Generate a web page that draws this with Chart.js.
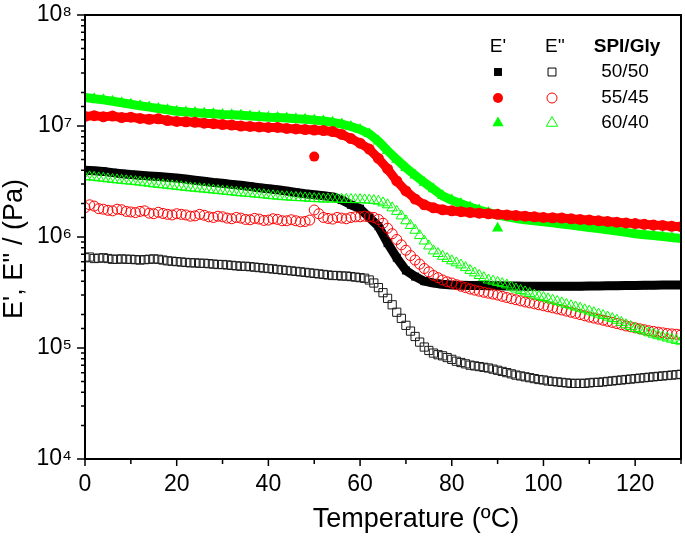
<!DOCTYPE html>
<html>
<head>
<meta charset="utf-8">
<script src="https://cdn.jsdelivr.net/npm/chart.js@4.4.0/dist/chart.umd.min.js"></script>
<style>
  html, body { margin: 0; padding: 0; background: #fff; }
  #wrap { width: 685px; height: 536px; }
</style>
</head>
<body>
<div id="wrap"><canvas id="dmaChart" width="685" height="536"></canvas></div>
<script>
// temperature (ºC): E' read every 2 degrees, E'' every degree
const temps = [0, 2, 4, 6, 8, 10, 12, 14, 16, 18,
    20, 22, 24, 26, 28, 30, 32, 34, 36, 38,
    40, 42, 44, 46, 48, 50, 52, 54, 56, 58,
    60, 62, 64, 66, 68, 70, 72, 74, 76, 78,
    80, 82, 84, 86, 88, 90, 92, 94, 96, 98,
    100, 102, 104, 106, 108, 110, 112, 114, 116, 118,
    120, 122, 124, 126, 128, 130];
const tempsFine = [0, 1, 2, 3, 4, 5, 6, 7, 8, 9,
    10, 11, 12, 13, 14, 15, 16, 17, 18, 19,
    20, 21, 22, 23, 24, 25, 26, 27, 28, 29,
    30, 31, 32, 33, 34, 35, 36, 37, 38, 39,
    40, 41, 42, 43, 44, 45, 46, 47, 48, 49,
    50, 51, 52, 53, 54, 55, 56, 57, 58, 59,
    60, 61, 62, 63, 64, 65, 66, 67, 68, 69,
    70, 71, 72, 73, 74, 75, 76, 77, 78, 79,
    80, 81, 82, 83, 84, 85, 86, 87, 88, 89,
    90, 91, 92, 93, 94, 95, 96, 97, 98, 99,
    100, 101, 102, 103, 104, 105, 106, 107, 108, 109,
    110, 111, 112, 113, 114, 115, 116, 117, 118, 119,
    120, 121, 122, 123, 124, 125, 126, 127, 128, 129, 130];

// E' (storage modulus), Pa
const storage5050 = [4.0e6, 3.95e6, 3.9e6, 3.8e6, 3.72e6, 3.65e6, 3.6e6, 3.55e6, 3.5e6, 3.45e6,
    3.4e6, 3.33e6, 3.25e6, 3.18e6, 3.1e6, 3.05e6, 2.98e6, 2.92e6, 2.85e6, 2.78e6,
    2.72e6, 2.66e6, 2.6e6, 2.52e6, 2.45e6, 2.4e6, 2.35e6, 2.3e6, 2.15e6, 1.95e6,
    1.8e6, 1.5e6, 1.25e6, 8.8e5, 6.5e5, 5.0e5, 4.4e5, 4.0e5, 3.85e5, 3.75e5,
    3.7e5, 3.68e5, 3.66e5, 3.65e5, 3.64e5, 3.63e5, 3.62e5, 3.61e5, 3.6e5, 3.6e5,
    3.6e5, 3.6e5, 3.6e5, 3.6e5, 3.6e5, 3.61e5, 3.62e5, 3.63e5, 3.64e5, 3.65e5,
    3.66e5, 3.67e5, 3.68e5, 3.69e5, 3.7e5, 3.7e5];
const storage5545 = [1.22e7, 1.24e7, 1.21e7, 1.23e7, 1.19e7, 1.20e7, 1.17e7, 1.15e7, 1.16e7, 1.12e7,
    1.10e7, 1.09e7, 1.08e7, 1.06e7, 1.05e7, 1.03e7, 1.02e7, 1.00e7, 9.9e6, 9.8e6,
    9.7e6, 9.7e6, 9.5e6, 9.4e6, 9.3e6, 9.2e6, 9.1e6, 8.9e6, 8.4e6, 7.7e6,
    7.0e6, 6.2e6, 5.1e6, 4.1e6, 3.2e6, 2.6e6, 2.2e6, 1.95e6, 1.83e6, 1.76e6,
    1.72e6, 1.69e6, 1.66e6, 1.64e6, 1.62e6, 1.60e6, 1.58e6, 1.56e6, 1.54e6, 1.52e6,
    1.50e6, 1.49e6, 1.48e6, 1.46e6, 1.44e6, 1.42e6, 1.40e6, 1.38e6, 1.36e6, 1.34e6,
    1.32e6, 1.30e6, 1.28e6, 1.27e6, 1.25e6, 1.24e6];
const storage6040 = [1.81e7, 1.76e7, 1.72e7, 1.67e7, 1.62e7, 1.57e7, 1.52e7, 1.48e7, 1.44e7, 1.40e7,
    1.36e7, 1.34e7, 1.32e7, 1.30e7, 1.29e7, 1.27e7, 1.26e7, 1.25e7, 1.23e7, 1.22e7,
    1.20e7, 1.19e7, 1.18e7, 1.16e7, 1.15e7, 1.13e7, 1.11e7, 1.08e7, 1.04e7, 9.9e6,
    9.3e6, 8.5e6, 7.3e6, 6.0e6, 5.0e6, 4.2e6, 3.6e6, 3.1e6, 2.7e6, 2.35e6,
    2.15e6, 2.0e6, 1.86e6, 1.75e6, 1.66e6, 1.58e6, 1.52e6, 1.47e6, 1.43e6, 1.40e6,
    1.37e6, 1.34e6, 1.31e6, 1.28e6, 1.25e6, 1.22e6, 1.19e6, 1.16e6, 1.13e6, 1.10e6,
    1.07e6, 1.05e6, 1.03e6, 1.01e6, 0.99e6, 0.97e6];

// E'' (loss modulus), Pa
const loss5050 = [6.5e5, 6.6e5, 6.4e5, 6.45e5, 6.5e5, 6.4e5, 6.3e5, 6.3e5, 6.35e5, 6.3e5,
    6.3e5, 6.25e5, 6.2e5, 6.25e5, 6.3e5, 6.35e5, 6.3e5, 6.2e5, 6.1e5, 6.05e5,
    6.0e5, 5.95e5, 5.9e5, 5.85e5, 5.85e5, 5.8e5, 5.8e5, 5.75e5, 5.7e5, 5.65e5,
    5.65e5, 5.6e5, 5.55e5, 5.5e5, 5.45e5, 5.45e5, 5.4e5, 5.35e5, 5.3e5, 5.25e5,
    5.2e5, 5.15e5, 5.1e5, 5.05e5, 5.0e5, 4.95e5, 4.9e5, 4.85e5, 4.8e5, 4.75e5,
    4.7e5, 4.65e5, 4.6e5, 4.55e5, 4.5e5, 4.5e5, 4.45e5, 4.45e5, 4.4e5, 4.35e5,
    4.3e5, 4.25e5, 4.1e5, 3.85e5, 3.5e5, 3.15e5, 2.8e5, 2.45e5, 2.1e5, 1.85e5,
    1.6e5, 1.42e5, 1.27e5, 1.13e5, 1.02e5, 9.5e4, 9.0e4, 8.7e4, 8.5e4, 8.2e4,
    7.9e4, 7.6e4, 7.4e4, 7.2e4, 7.0e4, 6.9e4, 6.8e4, 6.7e4, 6.6e4, 6.45e4,
    6.3e4, 6.15e4, 6.0e4, 5.85e4, 5.7e4, 5.6e4, 5.5e4, 5.4e4, 5.3e4, 5.2e4,
    5.15e4, 5.05e4, 5.0e4, 4.95e4, 4.9e4, 4.85e4, 4.8e4, 4.8e4, 4.8e4, 4.8e4,
    4.85e4, 4.9e4, 4.9e4, 4.95e4, 5.0e4, 5.05e4, 5.1e4, 5.15e4, 5.2e4, 5.25e4,
    5.3e4, 5.35e4, 5.4e4, 5.45e4, 5.5e4, 5.55e4, 5.6e4, 5.65e4, 5.7e4, 5.75e4, 5.8e4];
const loss5545 = [1.84e6, 1.95e6, 1.9e6, 1.8e6, 1.78e6, 1.74e6, 1.72e6, 1.78e6, 1.76e6, 1.7e6,
    1.68e6, 1.66e6, 1.7e6, 1.72e6, 1.64e6, 1.62e6, 1.67e6, 1.63e6, 1.6e6, 1.58e6,
    1.62e6, 1.6e6, 1.58e6, 1.54e6, 1.55e6, 1.6e6, 1.57e6, 1.52e6, 1.5e6, 1.54e6,
    1.52e6, 1.48e6, 1.46e6, 1.5e6, 1.48e6, 1.44e6, 1.43e6, 1.47e6, 1.45e6, 1.41e6,
    1.42e6, 1.46e6, 1.44e6, 1.4e6, 1.4e6, 1.43e6, 1.4e6, 1.37e6, 1.38e6, 1.42e6,
    1.75e6, 1.62e6, 1.5e6, 1.47e6, 1.45e6, 1.5e6, 1.48e6, 1.46e6, 1.5e6, 1.52e6,
    1.52e6, 1.54e6, 1.52e6, 1.5e6, 1.44e6, 1.33e6, 1.2e6, 1.07e6, 9.5e5, 8.5e5,
    7.6e5, 6.8e5, 6.2e5, 5.7e5, 5.2e5, 4.85e5, 4.5e5, 4.3e5, 4.1e5, 3.95e5,
    3.85e5, 3.72e5, 3.6e5, 3.5e5, 3.4e5, 3.32e5, 3.25e5, 3.18e5, 3.12e5, 3.06e5,
    3.0e5, 2.92e5, 2.85e5, 2.78e5, 2.72e5, 2.66e5, 2.6e5, 2.55e5, 2.5e5, 2.45e5,
    2.4e5, 2.35e5, 2.3e5, 2.25e5, 2.2e5, 2.15e5, 2.1e5, 2.05e5, 2.0e5, 1.95e5,
    1.9e5, 1.86e5, 1.82e5, 1.78e5, 1.74e5, 1.7e5, 1.66e5, 1.62e5, 1.58e5, 1.55e5,
    1.52e5, 1.49e5, 1.46e5, 1.43e5, 1.41e5, 1.39e5, 1.37e5, 1.35e5, 1.34e5, 1.33e5, 1.32e5];
const loss6040 = [3.5e6, 3.48e6, 3.45e6, 3.41e6, 3.38e6, 3.34e6, 3.3e6, 3.27e6, 3.24e6, 3.21e6,
    3.18e6, 3.15e6, 3.12e6, 3.08e6, 3.05e6, 3.01e6, 2.98e6, 2.95e6, 2.92e6, 2.89e6,
    2.86e6, 2.83e6, 2.8e6, 2.77e6, 2.75e6, 2.72e6, 2.7e6, 2.67e6, 2.65e6, 2.62e6,
    2.6e6, 2.57e6, 2.55e6, 2.52e6, 2.5e6, 2.48e6, 2.46e6, 2.44e6, 2.42e6, 2.4e6,
    2.37e6, 2.35e6, 2.33e6, 2.31e6, 2.3e6, 2.28e6, 2.27e6, 2.26e6, 2.25e6, 2.23e6,
    2.22e6, 2.21e6, 2.2e6, 2.2e6, 2.2e6, 2.19e6, 2.19e6, 2.18e6, 2.18e6, 2.17e6,
    2.17e6, 2.16e6, 2.15e6, 2.13e6, 2.1e6, 2.03e6, 1.95e6, 1.83e6, 1.7e6, 1.55e6,
    1.4e6, 1.27e6, 1.15e6, 1.03e6, 9.2e5, 8.3e5, 7.5e5, 7.1e5, 6.7e5, 6.4e5,
    6.1e5, 5.85e5, 5.6e5, 5.3e5, 5.0e5, 4.75e5, 4.5e5, 4.3e5, 4.1e5, 4.0e5,
    3.9e5, 3.8e5, 3.7e5, 3.55e5, 3.4e5, 3.3e5, 3.2e5, 3.1e5, 3.0e5, 2.92e5,
    2.85e5, 2.77e5, 2.7e5, 2.62e5, 2.55e5, 2.47e5, 2.4e5, 2.34e5, 2.28e5, 2.21e5,
    2.15e5, 2.08e5, 2.02e5, 1.96e5, 1.9e5, 1.84e5, 1.78e5, 1.7e5, 1.62e5, 1.56e5,
    1.5e5, 1.46e5, 1.42e5, 1.37e5, 1.33e5, 1.29e5, 1.26e5, 1.23e5, 1.2e5, 1.17e5, 1.15e5];

// the two stray E' points
const strayTemps5545 = [50];
const strayStorage5545 = [5.3e6];
const strayTemps6040 = [90];
const strayStorage6040 = [1.2e6];

const ratios = ['50/50', '55/45', '60/40'];
const xTickValues = [0, 20, 40, 60, 80, 100, 120];
const xTickLabels = ['0', '20', '40', '60', '80', '100', '120'];
const yTickValues = [1e4, 1e5, 1e6, 1e7, 1e8];
const yTickLabels = ['10⁴', '10⁵', '10⁶', '10⁷', '10⁸'];

const FONT = "'Liberation Sans', Arial, sans-serif";
const BLACK = '#000000';
const RED = '#ff0000';
const GREEN = '#00ff00';

const pts = (xs, ys) => xs.map((t, i) => ({ x: t, y: ys[i] }));

function filledSet(label, xs, ys, color, style, r, line) {
    return {
        label: label,
        data: pts(xs, ys),
        showLine: line,
        borderColor: color,
        borderWidth: 9,
        borderJoinStyle: 'round',
        borderCapStyle: 'round',
        pointStyle: style,
        pointRadius: r,
        pointBackgroundColor: color,
        pointBorderColor: color,
        pointBorderWidth: 0
    };
}

function openSet(label, xs, ys, color, style, r) {
    return {
        label: label,
        data: pts(xs, ys),
        showLine: false,
        borderColor: color,
        pointStyle: style,
        pointRadius: r,
        pointBackgroundColor: 'rgba(0,0,0,0)',
        pointBorderColor: color,
        pointBorderWidth: 1
    };
}

// frame, ticks, axis titles and the little table legend
const decorations = {
    id: 'decorations',
    afterDraw(chart) {
        const { ctx, chartArea: a, scales: { x, y } } = chart;
        ctx.save();
        ctx.strokeStyle = BLACK;
        ctx.lineWidth = 2;
        ctx.strokeRect(a.left, a.top, a.right - a.left, a.bottom - a.top);

        ctx.beginPath();
        x.ticks.forEach(t => {
            const px = x.getPixelForValue(t.value);
            const len = xTickValues.includes(t.value) ? 7 : 5;
            ctx.moveTo(px, a.bottom);
            ctx.lineTo(px, a.bottom + len);
        });
        y.ticks.forEach(t => {
            const py = y.getPixelForValue(t.value);
            const len = yTickValues.includes(t.value) ? 8 : 4;
            ctx.moveTo(a.left, py);
            ctx.lineTo(a.left - len, py);
        });
        ctx.lineWidth = 1.5;
        ctx.stroke();

        ctx.fillStyle = BLACK;
        ctx.font = '27px ' + FONT;
        ctx.textAlign = 'center';
        ctx.textBaseline = 'middle';
        ctx.fillText('Temperature (ºC)', 416, 520);
        ctx.save();
        ctx.translate(15, 249);
        ctx.rotate(-Math.PI / 2);
        ctx.fillText("E', E'' / (Pa)", 0, 0);
        ctx.restore();

        // legend table
        ctx.font = '19px ' + FONT;
        ctx.fillText("E'", 498, 47);
        ctx.fillText("E''", 555, 47);
        ctx.font = 'bold 19px ' + FONT;
        ctx.fillText('SPI/Gly', 627, 47);
        ctx.font = '19px ' + FONT;
        const rows = [
            { y: 72, color: BLACK, style: 'rect', r: 5.6 },
            { y: 98, color: RED, style: 'circle', r: 5 },
            { y: 123, color: GREEN, style: 'triangle', r: 6.5 }
        ];
        rows.forEach((row, i) => {
            ctx.fillStyle = row.color;
            ctx.strokeStyle = row.color;
            Chart.helpers.drawPoint(ctx, { pointStyle: row.style, radius: row.r, borderWidth: 0, rotation: 0 }, 498, row.y);
            ctx.fillStyle = 'rgba(0,0,0,0)';
            ctx.lineWidth = 1;
            Chart.helpers.drawPoint(ctx, { pointStyle: row.style, radius: row.r, borderWidth: 1, rotation: 0 }, 552, row.y);
            ctx.fillStyle = BLACK;
            ctx.fillText(ratios[i], 625, row.y);
        });
        ctx.restore();
    }
};

const ctx = document.getElementById('dmaChart').getContext('2d');
new Chart(ctx, {
    type: 'scatter',
    data: {
        datasets: [
            openSet("E'' " + ratios[2], tempsFine, loss6040, GREEN, 'triangle', 6),
            openSet("E'' " + ratios[1], tempsFine, loss5545, RED, 'circle', 5),
            filledSet("E' " + ratios[1], strayTemps5545, strayStorage5545, RED, 'circle', 5, false),
            filledSet("E' " + ratios[2], strayTemps6040, strayStorage6040, GREEN, 'triangle', 6.5, false),
            filledSet("E' " + ratios[1], temps, storage5545, RED, 'circle', 5.5, true),
            filledSet("E' " + ratios[2], temps, storage6040, GREEN, 'triangle', 6.5, true),
            filledSet("E' " + ratios[0], temps, storage5050, BLACK, 'rect', 5.6, true),
            openSet("E'' " + ratios[0], tempsFine, loss5050, '#1a1a1a', 'rect', 5.8)
        ]
    },
    options: {
        responsive: false,
        animation: false,
        devicePixelRatio: 1,
        layout: { autoPadding: false, padding: { top: 15, right: 4, left: 0, bottom: 0 } },
        plugins: {
            legend: { display: false },
            tooltip: { enabled: false }
        },
        scales: {
            x: {
                type: 'linear',
                min: 0,
                max: 130,
                grid: { display: false },
                border: { display: false },
                ticks: {
                    stepSize: 10,
                    autoSkip: false,
                    maxRotation: 0,
                    padding: 4,
                    color: BLACK,
                    font: { family: FONT, size: 23 },
                    callback: v => {
                        const i = xTickValues.indexOf(v);
                        return i >= 0 ? xTickLabels[i] : '';
                    }
                },
                afterFit: scale => {
                    scale.height = 77;
                    scale.paddingLeft = 0;
                    scale.paddingRight = 0;
                }
            },
            y: {
                type: 'logarithmic',
                min: 1e4,
                max: 1e8,
                grid: { display: false },
                border: { display: false },
                ticks: {
                    autoSkip: false,
                    padding: 5,
                    color: BLACK,
                    font: { family: FONT, size: 23 },
                    callback: v => {
                        const i = yTickValues.findIndex(t => Math.abs(t - v) / t < 1e-6);
                        return i >= 0 ? yTickLabels[i] : '';
                    }
                },
                afterFit: scale => {
                    scale.width = 85;
                    scale.paddingTop = 0;
                    scale.paddingBottom = 0;
                }
            }
        }
    },
    plugins: [decorations]
});
</script>
</body>
</html>
